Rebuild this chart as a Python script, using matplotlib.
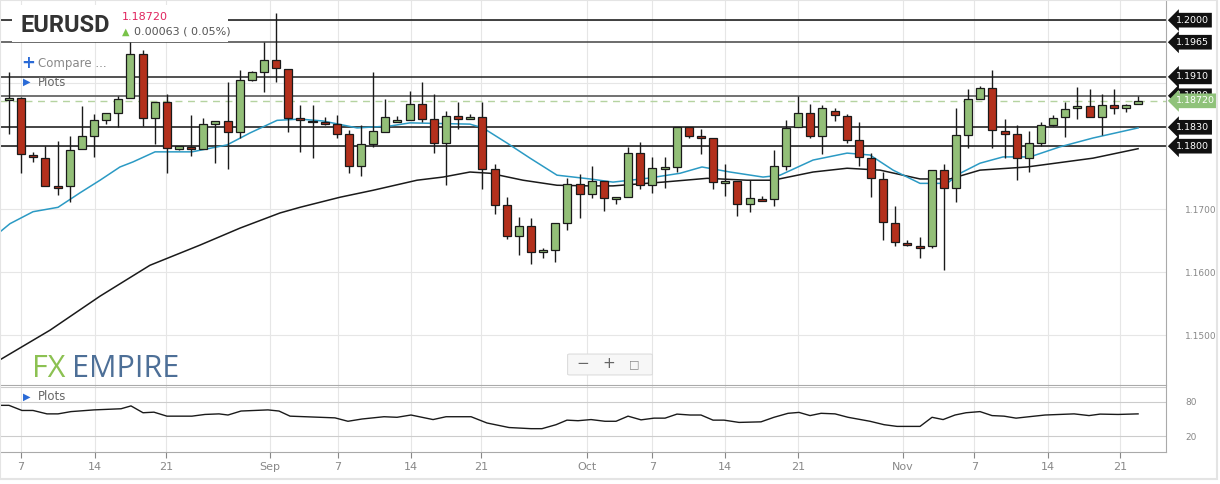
import matplotlib
matplotlib.use("Agg")
import matplotlib.pyplot as plt
from matplotlib.patches import Rectangle, FancyBboxPatch
from matplotlib import transforms

# ---------------- data ----------------
opens = [1.1873,1.1876,1.1784,1.1781,1.1737,1.1737,1.1796,1.1816,1.1841,1.1853,
         1.1876,1.1946,1.1845,1.1870,1.1796,1.1799,1.1796,1.1835,1.1840,1.1822,
         1.1905,1.1918,1.1937,1.1922,1.1845,1.1840,1.1838,1.1835,1.1819,1.1769,
         1.1803,1.1822,1.1838,1.1841,1.1867,1.1843,1.1805,1.1848,1.1843,1.1846,
         1.1764,1.1707,1.1657,1.1673,1.1632,1.1635,1.1678,1.1740,1.1724,1.1745,
         1.1716,1.1719,1.1789,1.1738,1.1764,1.1767,1.1830,1.1816,1.1813,1.1741,
         1.1745,1.1708,1.1716,1.1716,1.1769,1.1830,1.1853,1.1816,1.1856,1.1848,
         1.1810,1.1781,1.1748,1.1678,1.1646,1.1642,1.1642,1.1762,1.1734,1.1818,
         1.1875,1.1892,1.1824,1.1819,1.1781,1.1805,1.1834,1.1846,1.1861,1.1864,
         1.1846,1.1865,1.1861,1.1867]
closes = [1.1876,1.1788,1.1783,1.1737,1.1734,1.1794,1.1816,1.1841,1.1853,1.1875,
          1.1946,1.1845,1.1870,1.1797,1.1800,1.1796,1.1835,1.1840,1.1822,1.1905,
          1.1918,1.1937,1.1924,1.1845,1.1841,1.1838,1.1835,1.1819,1.1769,1.1803,
          1.1824,1.1846,1.1841,1.1867,1.1843,1.1805,1.1848,1.1843,1.1846,1.1764,
          1.1707,1.1657,1.1673,1.1632,1.1635,1.1678,1.1740,1.1724,1.1745,1.1718,
          1.1719,1.1789,1.1738,1.1765,1.1767,1.1830,1.1816,1.1813,1.1743,1.1745,
          1.1708,1.1718,1.1713,1.1769,1.1829,1.1853,1.1816,1.1861,1.1849,1.1810,
          1.1783,1.1749,1.1680,1.1648,1.1643,1.1638,1.1762,1.1734,1.1818,1.1875,
          1.1892,1.1826,1.1819,1.1781,1.1805,1.1834,1.1845,1.1859,1.1864,1.1846,
          1.1865,1.1861,1.1865,1.1872]
highs = [1.1918,1.1878,1.1791,1.1800,1.1808,1.1816,1.1864,1.1851,1.1853,1.1880,
         1.1965,1.1953,1.1870,1.1883,1.1800,1.1849,1.1845,1.1840,1.1902,1.1921,
         1.1920,1.1965,1.2011,1.1922,1.1865,1.1865,1.1846,1.1849,1.1826,1.1834,
         1.1918,1.1875,1.1848,1.1888,1.1902,1.1883,1.1856,1.1870,1.1851,1.1870,
         1.1772,1.1719,1.1688,1.1686,1.1638,1.1678,1.1749,1.1756,1.1769,1.1745,
         1.1719,1.1799,1.1807,1.1783,1.1783,1.1830,1.1830,1.1827,1.1813,1.1772,
         1.1745,1.1746,1.1721,1.1794,1.1841,1.1880,1.1867,1.1865,1.1861,1.1851,
         1.1838,1.1789,1.1759,1.1705,1.1651,1.1656,1.1762,1.1772,1.1861,1.1891,
         1.1895,1.1921,1.1843,1.1834,1.1824,1.1838,1.1849,1.1870,1.1894,1.1891,
         1.1883,1.1891,1.1867,1.1880]
lows = [1.1819,1.1757,1.1775,1.1737,1.1723,1.1711,1.1796,1.1783,1.1835,1.1830,
        1.1876,1.1832,1.1803,1.1757,1.1794,1.1784,1.1796,1.1773,1.1764,1.1813,
        1.1903,1.1886,1.1902,1.1822,1.1791,1.1781,1.1834,1.1813,1.1757,1.1753,
        1.1799,1.1822,1.1838,1.1841,1.1838,1.1789,1.1738,1.1827,1.1843,1.1732,
        1.1692,1.1653,1.1627,1.1613,1.1623,1.1616,1.1667,1.1686,1.1718,1.1697,
        1.1708,1.1719,1.1732,1.1726,1.1734,1.1759,1.1813,1.1788,1.1732,1.1721,
        1.1689,1.1696,1.1713,1.1705,1.1762,1.1830,1.1813,1.1788,1.1840,1.1805,
        1.1769,1.1719,1.1651,1.1642,1.1642,1.1623,1.1638,1.1604,1.1711,1.1797,
        1.1875,1.1797,1.1781,1.1746,1.1759,1.1800,1.1832,1.1815,1.1843,1.1846,
        1.1818,1.1851,1.1854,1.1867]

ma_fast_x = [-0.74,0.08,1.98,4.04,5.85,7.50,9.14,10.21,12.03,15.07,17.96,19.85,22.08,23.97,
             25.86,28.67,31.38,33.03,37.97,39.04,41.02,42.92,45.14,47.86,49.75,52.55,55.27,
             57.08,59.39,62.11,63.51,66.23,69.03,70.92,72.82,75.04,77.27,78.34,79.98,81.88,
             84.10,86.57,89.29,93.0]
ma_fast_y = [1.1664,1.1677,1.1696,1.1703,1.1726,1.1746,1.1767,1.1775,1.1791,1.1791,1.1802,
             1.1821,1.1841,1.1843,1.1840,1.1829,1.1832,1.1837,1.1835,1.1829,1.1805,1.1781,
             1.1754,1.1748,1.1743,1.1749,1.1757,1.1767,1.1759,1.1751,1.1754,1.1778,1.1789,
             1.1786,1.1762,1.1741,1.1741,1.1757,1.1773,1.1783,1.1783,1.1799,1.1813,1.1829]
ma_slow_x = [-0.74,3.38,7.50,11.61,15.73,19.03,22.32,23.97,27.27,29.98,33.61,35.75,37.97,
             39.62,42.34,45.14,47.86,49.75,53.87,57.50,60.79,62.93,66.23,69.03,71.75,75.04,
             77.51,79.98,83.85,89.29,93.0]
ma_slow_y = [1.1461,1.1508,1.1562,1.1611,1.1643,1.1670,1.1694,1.1703,1.1719,1.1730,1.1746,
             1.1751,1.1759,1.1757,1.1746,1.1738,1.1737,1.1737,1.1743,1.1749,1.1746,1.1746,
             1.1759,1.1765,1.1762,1.1748,1.1748,1.1762,1.1767,1.1781,1.1796]

osc_x = [-0.74,0,1.07,1.98,3.13,4.04,5.11,7.0,9.23,10.05,11.04,11.94,13.01,15.07,16.14,
         17.30,18.04,19.11,21.33,22.24,23.15,26.85,27.92,29.08,30.89,31.96,33.11,34.93,
         36.0,38.06,39.37,41.19,43.0,43.9,45.06,45.96,46.87,47.94,49.09,50.0,50.99,52.06,
         53.13,54.04,55.02,56.1,57.0,57.99,58.9,60.13,61.94,63.01,64.17,65.07,65.98,66.89,
         68.04,69.11,70.92,72.08,73.15,75.04,76.03,76.94,77.92,78.83,79.98,80.97,81.96,
         82.95,84.02,85.34,87.73,88.96,89.87,91.35,93.0]
osc_y = [74,74,65,65,59,59,63,66,68,73,61,62,55,55,58,59,57,64,66,64,55,52,46,50,54,53,
         57,49,54,54,43,35,33,33,40,48,47,49,46,46,55,48.5,51.5,51.5,58.6,57,57,48,48,44,
         45,53,60,61.6,56,60,59,53,46,40,37,37,53,49,57,61,63,56,55,51.5,54,57,59,56,58.6,
         58,59]

tick_pos = [0.99,7.08,12.93,21.5,27.1,33.1,38.9,47.6,53.0,59.0,65.0,73.6,79.5,85.6,91.5]
tick_labels = ["7","14","21","Sep","7","14","21","Oct","7","14","21","Nov","7","14","21"]

levels = [1.2000,1.1965,1.1910,1.1880,1.1830,1.1800]
level_colors = ["#111111","#444444","#222222","#666666","#111111","#111111"]
last_price = 1.18720

# ---------------- figure ----------------
W, H = 1220, 484
fig = plt.figure(figsize=(W/100, H/100), dpi=100)
fig.patch.set_facecolor("white")

def fx(x): return x / W
def fy(y): return 1 - y / H

x0, x1 = -0.74, 95.3
ax = fig.add_axes([0, fy(385), fx(1166), 385/H])
ax2 = fig.add_axes([0, fy(452), fx(1166), 66/H])

for a in (ax, ax2):
    a.set_xlim(x0, x1)
    for s in ("top", "left"):
        a.spines[s].set_visible(False)
    for s in ("right", "bottom"):
        a.spines[s].set_color("#aaaaaa")
    for t in tick_pos:
        a.axvline(t, color="#e6e6e6", lw=0.8, zorder=0)

ax.set_ylim(1.1421, 1.2032)
ax.set_xticks([])
ax.yaxis.tick_right()
ax.set_yticks([1.15, 1.16, 1.17])
ax.set_yticklabels(["1.1500", "1.1600", "1.1700"])
ax.tick_params(axis="y", colors="#888888", labelsize=6.5, length=0, pad=14)
for yv in [1.15, 1.16, 1.17, 1.18, 1.19, 1.20]:
    ax.axhline(yv, color="#e6e6e6", lw=0.8, zorder=0)

# levels
for lv, c in zip(levels, level_colors):
    ax.axhline(lv, color=c, lw=1.3 if c == "#666666" else 1.1, zorder=1)
ax.axhline(last_price, color="#b5d3a0", lw=1, ls=(0, (5, 4)), zorder=1)

# MAs
ax.plot(ma_slow_x, ma_slow_y, color="#1a1a1a", lw=1.1, zorder=2)
ax.plot(ma_fast_x, ma_fast_y, color="#2b9ac4", lw=1.1, zorder=2)

# candles
bw = 0.66
for i, (o, h, l, c) in enumerate(zip(opens, highs, lows, closes)):
    col = "#93bf78" if c >= o else "#b3301c"
    ax.vlines(i, l, h, color="#1a1a1a", lw=1, zorder=3)
    lo, hi = min(o, c), max(o, c)
    hgt = max(hi - lo, 0.00025)
    ax.add_patch(Rectangle((i - bw/2, lo), bw, hgt, facecolor=col,
                           edgecolor="#1a1a1a", lw=0.9, zorder=4))

# right labels
trans = transforms.blended_transform_factory(ax.transAxes, ax.transData)
lx = 1.0 + 10/1166
for lv in levels:
    ax.text(lx, lv, f"{lv:.4f}", transform=trans, color="white", fontsize=6.8,
            va="center", ha="left", clip_on=False, zorder=10, family="DejaVu Sans",
            bbox=dict(boxstyle="larrow,pad=0.3", fc="#111111", ec="none"))
ax.text(lx, last_price, f"{last_price:.5f}", transform=trans, color="white", fontsize=6.8,
        va="center", ha="left", clip_on=False, zorder=11,
        bbox=dict(boxstyle="larrow,pad=0.3", fc="#8fc27a", ec="none"))

# lower panel
ax2.set_ylim(-8, 108)
ax2.plot(osc_x, osc_y, color="#1a1a1a", lw=1)
ax2.axhline(80, color="#cccccc", lw=0.8, zorder=0)
ax2.axhline(20, color="#cccccc", lw=0.8, zorder=0)
ax2.axhline(106, color="#cccccc", lw=0.8, zorder=0)
ax2.yaxis.tick_right()
ax2.set_yticks([20, 80])
ax2.set_yticklabels(["20", "80"])
ax2.tick_params(axis="y", colors="#888888", labelsize=6.5, length=0, pad=14)
ax2.set_xticks(tick_pos)
ax2.set_xticklabels(tick_labels)
ax2.tick_params(axis="x", colors="#888888", labelsize=8, length=4, pad=3)

# header
fig.patches.append(Rectangle((fx(12), fy(42)), fx(216), 37/H, transform=fig.transFigure,
                             fc="white", ec="none", zorder=5))
fig.text(fx(21), fy(25), "EURUSD", fontsize=17, fontweight="bold", color="#333333",
         va="center", ha="left", zorder=6, family="Roboto")
fig.text(fx(122), fy(17), "1.18720", fontsize=8, color="#e0245e", va="center", zorder=6)
fig.text(fx(122), fy(32), "\u25B2", fontsize=7, color="#79c34a", va="center", zorder=6)
fig.text(fx(134), fy(32), "0.00063 ( 0.05%)", fontsize=8, color="#555555", va="center", zorder=6)
fig.text(fx(21), fy(63), "+", fontsize=12, color="#2a6ad6", va="center", fontweight="bold")
fig.text(fx(38), fy(63), "Compare ...", fontsize=8.5, color="#888888", va="center")
fig.text(fx(23), fy(82), "\u25B6", fontsize=7, color="#2a6ad6", va="center")
fig.text(fx(38), fy(82), "Plots", fontsize=8.5, color="#666666", va="center")
fig.text(fx(23), fy(397), "\u25B6", fontsize=7, color="#2a6ad6", va="center")
fig.text(fx(38), fy(397), "Plots", fontsize=8.5, color="#666666", va="center")

# watermark
fig.text(fx(32), fy(369), "FX", fontsize=22, color="#8cc152", va="center", ha="left",
         family="Open Sans")
fig.text(fx(72), fy(369), "EMPIRE", fontsize=22, color="#4d6f97", va="center", ha="left",
         family="Open Sans")

# zoom buttons
fig.patches.append(FancyBboxPatch((fx(570), fy(374)), fx(80), 19/H, boxstyle="round,pad=0.002",
                                  transform=fig.transFigure, fc="#f7f7f7", ec="#dddddd", lw=0.8))
fig.text(fx(583), fy(364), "\u2212", fontsize=11, color="#666666", va="center", ha="center")
fig.text(fx(609), fy(364), "+", fontsize=11, color="#666666", va="center", ha="center")
fig.text(fx(634), fy(364), "\u25A1", fontsize=8, color="#888888", va="center", ha="center")

# outer frame
fig.patches.append(Rectangle((0, fy(479)), fx(1217), 479/H, transform=fig.transFigure,
                             fc="none", ec="#e4e4e4", lw=1.5))

fig.savefig("out.png", dpi=100)
